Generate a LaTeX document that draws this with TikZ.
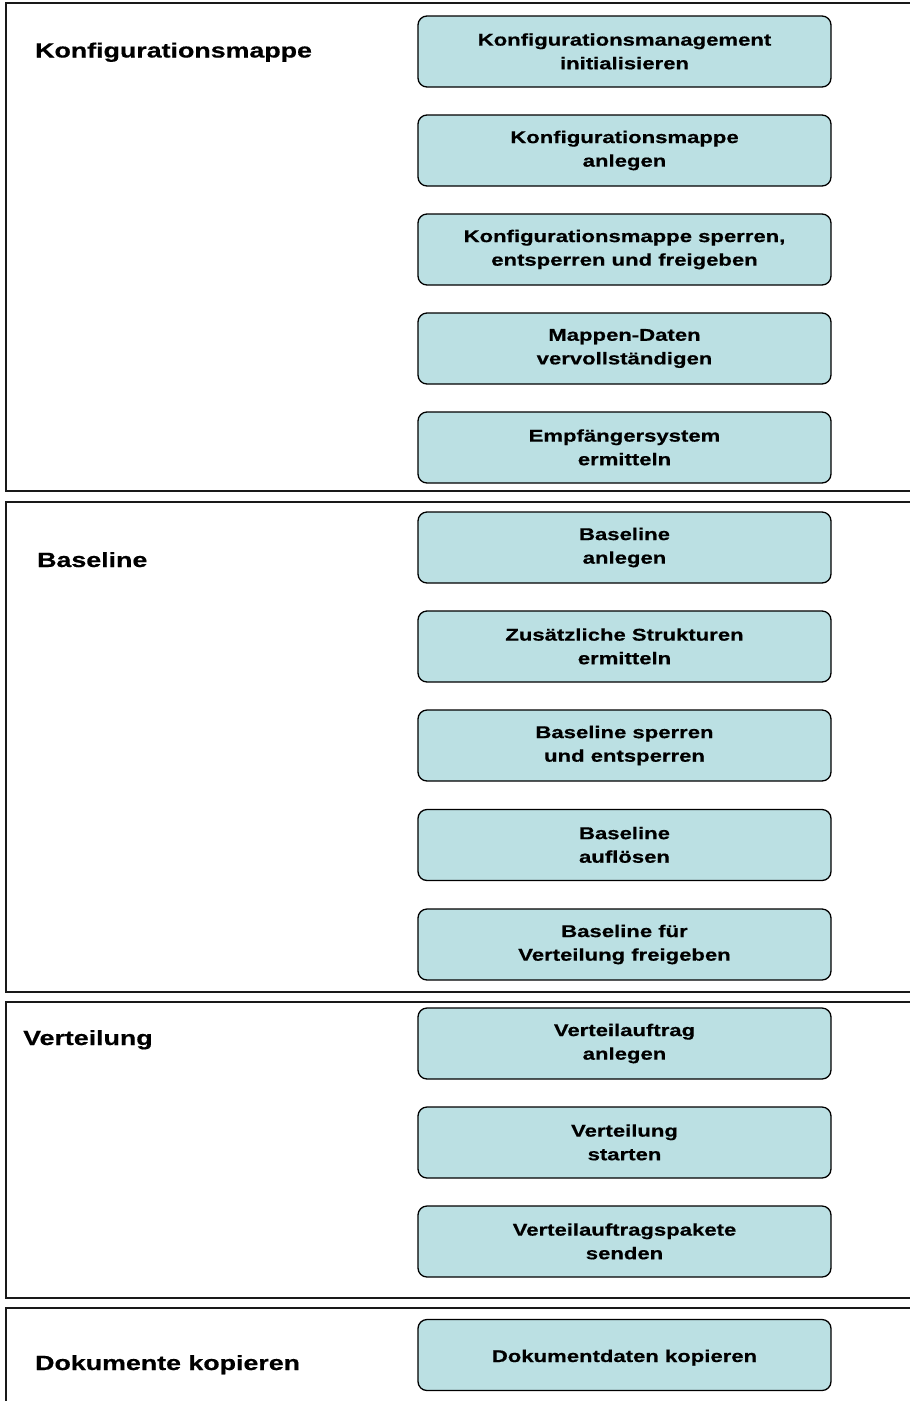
\documentclass[tikz,border=0pt]{standalone}
\usepackage{fontspec}
\newfontfamily\lab{Liberation Sans}[FakeStretch=1.3,FakeBold=0.6]
\definecolor{boxfill}{HTML}{BBE0E3}
\tikzset{
  procbox/.style={draw=black, line width=1.3pt, fill=boxfill, rounded corners=9pt,
    minimum width=413pt, minimum height=71pt, inner sep=0pt, align=center,
    font=\lab\bfseries\fontsize{17pt}{23.6pt}\selectfont,
    execute at begin node={\rule{0pt}{17.5pt}},
    execute at end node={\rule[-0.5pt]{0pt}{0.5pt}}},
  seclabel/.style={anchor=base west, inner sep=0pt,
    font=\lab\bfseries\fontsize{20.6pt}{24pt}\selectfont},
  frameline/.style={draw=black!90, line width=2pt}
}
\begin{document}
\begin{tikzpicture}[x=1pt,y=-1pt]
\useasboundingbox (0,0) rectangle (910,1401);
% section frames
\draw[frameline] (912,3) -| (6,491) -- (912,491);
\draw[frameline] (912,502) -| (6,991.5) -- (912,991.5);
\draw[frameline] (912,1002) -| (6,1298) -- (912,1298);
\draw[frameline] (912,1308) -| (6,1403);
% section labels
\node[seclabel] (l1) at (35,57.5) {Konfigurationsmappe};
\node[seclabel] (l2) at (37,567) {Baseline};
\node[seclabel] (l3) at (23,1045) {Verteilung};
\node[seclabel] (l4) at (35,1370) {Dokumente kopieren};
% section 1
\node[procbox] (a1) at (624.5,51.5) {Konfigurationsmanagement\\initialisieren};
\node[procbox] (a2) at (624.5,150.5) {Konfigurationsmappe\\anlegen};
\node[procbox] (a3) at (624.5,249.5) {Konfigurationsmappe sperren,\\entsperren und freigeben};
\node[procbox] (a4) at (624.5,348.5) {Mappen-Daten\\vervollständigen};
\node[procbox] (a5) at (624.5,447.5) {Empfängersystem\\ermitteln};
% section 2
\node[procbox] (b1) at (624.5,547.5) {Baseline\\anlegen};
\node[procbox] (b2) at (624.5,646.5) {Zusätzliche Strukturen\\ermitteln};
\node[procbox] (b3) at (624.5,745.5) {Baseline sperren\\und entsperren};
\node[procbox] (b4) at (624.5,845) {Baseline\\auflösen};
\node[procbox] (b5) at (624.5,944.5) {Baseline für\\Verteilung freigeben};
% section 3
\node[procbox] (c1) at (624.5,1043.5) {Verteilauftrag\\anlegen};
\node[procbox] (c2) at (624.5,1142.5) {Verteilung\\starten};
\node[procbox] (c3) at (624.5,1241.5) {Verteilauftragspakete\\senden};
% section 4
\node[procbox] (d1) at (624.5,1355) {Dokumentdaten kopieren};
\end{tikzpicture}
\end{document}
